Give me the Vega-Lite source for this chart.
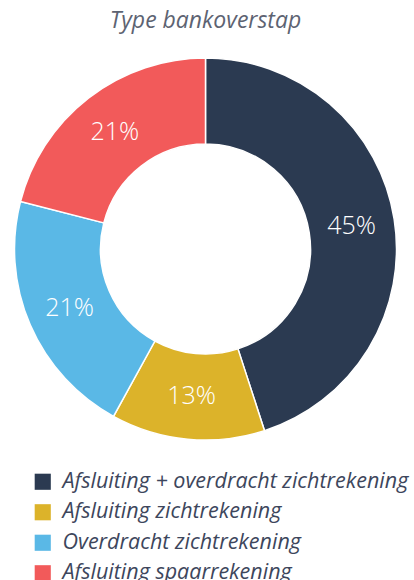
{
  "$schema": "https://vega.github.io/schema/vega-lite/v6.json",
  "autosize": {"type": "none"},
  "width": 411,
  "height": 382,
  "padding": {"top": 58, "left": 0, "right": 3, "bottom": 140},
  "background": "white",
  "title": {
    "text": "Type bankoverstap",
    "font": "Open Sans",
    "fontSize": 23,
    "fontStyle": "italic",
    "fontWeight": "normal",
    "color": "#5d6372",
    "anchor": "middle",
    "offset": 22
  },
  "data": {
    "values": [
      {"type": "Afsluiting + overdracht zichtrekening", "value": 45, "idx": 1, "label": "45%"},
      {"type": "Afsluiting zichtrekening", "value": 13, "idx": 2, "label": "13%"},
      {"type": "Overdracht zichtrekening", "value": 21, "idx": 3, "label": "21%"},
      {"type": "Afsluiting spaarrekening", "value": 21, "idx": 4, "label": "21%"}
    ]
  },
  "encoding": {
    "theta": {"field": "value", "type": "quantitative", "stack": true},
    "order": {"field": "idx", "type": "quantitative"},
    "color": {
      "field": "type",
      "type": "nominal",
      "scale": {
        "domain": ["Afsluiting + overdracht zichtrekening", "Afsluiting zichtrekening", "Overdracht zichtrekening", "Afsluiting spaarrekening"],
        "range": ["#2b3a51", "#dcb32a", "#5ab8e6", "#f25a5a"]
      },
      "legend": {
        "title": null,
        "orient": "none",
        "legendX": 32,
        "legendY": 413,
        "direction": "vertical",
        "symbolType": "square",
        "symbolSize": 260,
        "symbolStrokeWidth": 0,
        "symbolOpacity": 1,
        "labelFont": "Open Sans",
        "labelFontSize": 21.5,
        "labelFontStyle": "italic",
        "labelColor": "#3d465c",
        "labelOffset": 9,
        "labelLimit": 400,
        "rowPadding": 7.5,
        "padding": 0
      }
    }
  },
  "layer": [
    {
      "mark": {"type": "arc", "innerRadius": 105, "outerRadius": 191, "stroke": "white", "strokeWidth": 1.5}
    },
    {
      "mark": {"type": "text", "radius": 148, "fontSize": 25, "font": "Open Sans", "fontWeight": 300, "fill": "white"},
      "encoding": {
        "text": {"field": "label", "type": "nominal"},
        "color": {"value": "white"}
      }
    }
  ]
}
